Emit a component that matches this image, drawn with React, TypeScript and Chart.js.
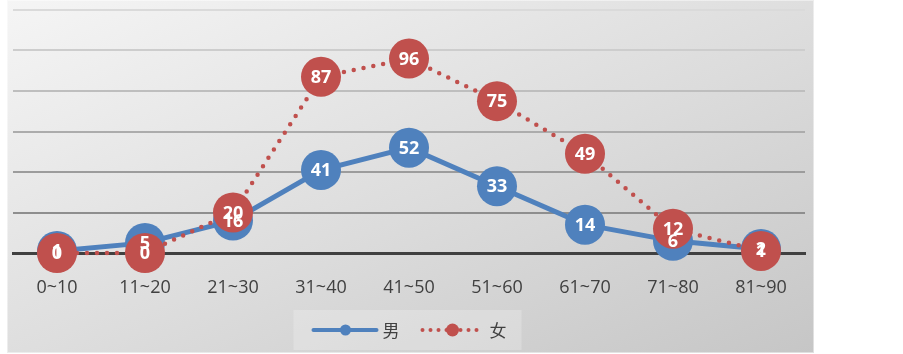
import React, { useEffect, useRef } from "react";
import { Chart, registerables } from "chart.js";

Chart.register(...registerables);

const categories = ["0~10", "11~20", "21~30", "31~40", "41~50", "51~60", "61~70", "71~80", "81~90"];
const maleValues = [1, 5, 16, 41, 52, 33, 14, 6, 2];
const femaleValues = [0, 0, 20, 87, 96, 75, 49, 12, 1];
const seriesNames = ["男", "女"];
const yMax = 120;
const yStep = 20;

const BLUE = "#4f81bd";
const RED = "#c0504d";

const gridColors: Record<number, string> = {
  0: "rgba(0,0,0,0)",
  20: "#8e8e8e",
  40: "#9c9c9c",
  60: "#acacac",
  80: "#bebebe",
  100: "#cdcdcd",
  120: "#dadada",
};

const labelPlugin = {
  id: "valueLabels",
  afterDatasetsDraw(chart: any) {
    const ctx = chart.ctx;
    ctx.save();
    ctx.font = "bold 18px 'Open Sans'";
    ctx.fillStyle = "#ffffff";
    ctx.textAlign = "center";
    ctx.textBaseline = "middle";
    chart.data.datasets.forEach((ds: any, i: number) => {
      const meta = chart.getDatasetMeta(i);
      meta.data.forEach((pt: any, j: number) => {
        ctx.fillText(String(ds.data[j]), pt.x, pt.y + 1);
      });
    });
    ctx.restore();
  },
};

const legendPlugin = {
  id: "customLegend",
  afterDraw(chart: any) {
    const ctx = chart.ctx;
    const cx = chart.width / 2;
    const boxL = cx - 117;
    const boxT = 310;
    const y = 330;
    ctx.save();
    ctx.fillStyle = "rgba(255,255,255,0.22)";
    ctx.fillRect(boxL, boxT, 228, 40);
    // male
    ctx.strokeStyle = BLUE;
    ctx.lineWidth = 4;
    ctx.lineCap = "round";
    ctx.beginPath();
    ctx.moveTo(boxL + 20, y);
    ctx.lineTo(boxL + 83, y);
    ctx.stroke();
    ctx.fillStyle = BLUE;
    ctx.beginPath();
    ctx.arc(boxL + 52, y, 5.5, 0, Math.PI * 2);
    ctx.fill();
    // female
    ctx.fillStyle = RED;
    [129, 137, 145, 153, 167, 175, 183].forEach((dx) => {
      ctx.beginPath();
      ctx.arc(boxL + dx, y, 2, 0, Math.PI * 2);
      ctx.fill();
    });
    ctx.beginPath();
    ctx.arc(boxL + 159, y, 6.5, 0, Math.PI * 2);
    ctx.fill();
    // texts
    ctx.fillStyle = "#404040";
    ctx.font = "17px 'Noto Sans CJK SC'";
    ctx.textAlign = "left";
    ctx.textBaseline = "middle";
    ctx.fillText(seriesNames[0], boxL + 89, y + 1);
    ctx.fillText(seriesNames[1], boxL + 196, y + 1);
    ctx.restore();
  },
};

const zeroPad = (s: any) => {
  s.paddingLeft = 0;
  s.paddingRight = 0;
  s.paddingTop = 0;
  s.paddingBottom = 0;
};

export default function App() {
  const ref = useRef<HTMLCanvasElement>(null);

  useEffect(() => {
    if (!ref.current) return;
    const chart = new Chart(ref.current, {
      type: "line",
      data: {
        labels: categories,
        datasets: [
          {
            label: seriesNames[0],
            data: maleValues,
            borderColor: BLUE,
            backgroundColor: BLUE,
            borderWidth: 5,
            pointRadius: 20,
            pointHoverRadius: 20,
            pointBorderWidth: 0,
            pointBackgroundColor: BLUE,
            tension: 0,
            clip: false as any,
            order: 1,
          },
          {
            label: seriesNames[1],
            data: femaleValues,
            borderColor: RED,
            backgroundColor: RED,
            borderWidth: 4.5,
            borderDash: [0, 10],
            borderCapStyle: "round",
            pointRadius: 20,
            pointHoverRadius: 20,
            pointBorderWidth: 0,
            pointBackgroundColor: RED,
            tension: 0,
            clip: false as any,
            order: 0,
          },
        ],
      },
      options: {
        responsive: false,
        animation: false,
        devicePixelRatio: 1,
        layout: { autoPadding: false, padding: { left: 6, right: 9, top: 10, bottom: 0 } },
        plugins: { legend: { display: false }, tooltip: { enabled: false } },
        scales: {
          x: {
            type: "category",
            offset: true,
            grid: { display: false, drawTicks: false },
            border: { display: true, color: "#404040", width: 3 },
            ticks: {
              color: "#404040",
              font: { family: "'Open Sans'", size: 18 },
              padding: 24,
              maxRotation: 0,
              autoSkip: false,
            },
            afterFit: (s: any) => {
              s.height = 100;
              zeroPad(s);
            },
          },
          y: {
            min: 0,
            max: yMax,
            ticks: { display: false, stepSize: yStep },
            border: { display: false },
            grid: {
              drawTicks: false,
              lineWidth: 2,
              color: (c: any) => gridColors[c.tick?.value] ?? "#bbbbbb",
            },
            afterFit: (s: any) => {
              s.width = 0;
              zeroPad(s);
            },
          },
        },
      },
      plugins: [labelPlugin, legendPlugin],
    });
    return () => chart.destroy();
  }, []);

  return (
    <div
      style={{
        position: "absolute",
        left: 7,
        top: 0,
        width: 807,
        height: 353,
        background: "linear-gradient(to bottom right, #f5f5f5 0%, #dcdcdc 55%, #c6c6c6 100%)",
        boxShadow: "inset 0 0 0 1px rgba(255,255,255,0.45)",
      }}
    >
      <canvas ref={ref} width={807} height={353} style={{ display: "block" }} />
    </div>
  );
}
